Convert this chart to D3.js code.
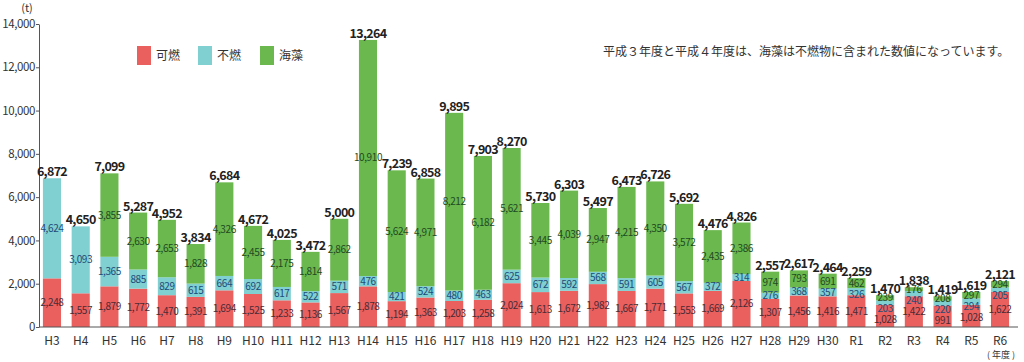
<!DOCTYPE html>
<html>
<head>
<meta charset="utf-8">
<script src="https://cdn.jsdelivr.net/npm/d3@7"></script>
<style>
  body { margin: 0; background: #fff; }
  text { font-family: "Noto Sans CJK JP", "Noto Sans", sans-serif; }
</style>
</head>
<body>
<div id="chart"></div>
<script>
const years = ["H3","H4","H5","H6","H7","H8","H9","H10","H11","H12","H13","H14","H15","H16","H17","H18","H19","H20","H21","H22","H23","H24","H25","H26","H27","H28","H29","H30","R1","R2","R3","R4","R5","R6"];
const combustible = [2248,1557,1879,1772,1470,1391,1694,1525,1233,1136,1567,1878,1194,1363,1203,1258,2024,1613,1672,1982,1667,1771,1553,1669,2126,1307,1456,1416,1471,1028,1422,991,1028,1622];
const nonCombustible = [4624,3093,1365,885,829,615,664,692,617,522,571,476,421,524,480,463,625,672,592,568,591,605,567,372,314,276,368,357,326,203,240,220,294,205];
const seaweed = [0,0,3855,2630,2653,1828,4326,2455,2175,1814,2862,10910,5624,4971,8212,6182,5621,3445,4039,2947,4215,4350,3572,2435,2386,974,793,691,462,239,176,208,297,294];
const totals = [6872,4650,7099,5287,4952,3834,6684,4672,4025,3472,5000,13264,7239,6858,9895,7903,8270,5730,6303,5497,6473,6726,5692,4476,4826,2557,2617,2464,2259,1470,1838,1419,1619,2121];
const yTicks = [0,2000,4000,6000,8000,10000,12000,14000];

const seriesNames = ["可燃", "不燃", "海藻"];
const colors = ["#e9605f", "#80cfd1", "#6bb84f"];
const labelColors = ["#4a2b35", "#1d4c78", "#1f4a1f"];

const width = 1024, height = 362;

const rows = years.map((y, i) => ({ year: y, c: combustible[i], n: nonCombustible[i], s: seaweed[i], total: totals[i] }));
const stack = d3.stack().keys(["c", "n", "s"])(rows);

const svg = d3.select("#chart").append("svg")
  .attr("width", width)
  .attr("height", height);

const x = d3.scaleBand()
  .domain(years)
  .range([37.6, 1014.4])
  .paddingInner(0.37)
  .paddingOuter(0.185);

const y = d3.scaleLinear()
  .domain([0, 14000])
  .range([327, 24]);

// y axis
const yAxis = svg.append("g")
  .attr("transform", "translate(39,0)")
  .call(d3.axisLeft(y).tickValues(yTicks).tickSize(3).tickSizeOuter(0).tickPadding(1).tickFormat(d3.format(",")));
yAxis.select(".domain").attr("stroke", "#555");
yAxis.selectAll(".tick line").attr("stroke", "#555");
yAxis.selectAll(".tick text").attr("font-size", 11.5).attr("fill", "#333")
  .attr("letter-spacing", -0.4)
  .style("font-family", "'Noto Sans CJK JP', sans-serif");

svg.append("text").attr("x", 27).attr("y", 12).attr("text-anchor", "middle")
  .attr("font-size", 11).attr("fill", "#333").text("(t)");

// bars
svg.append("g").selectAll("g")
  .data(stack)
  .join("g")
  .attr("fill", (d, i) => colors[i])
  .selectAll("rect")
  .data(d => d)
  .join("rect")
  .attr("x", d => x(d.data.year))
  .attr("y", d => y(d[1]))
  .attr("width", x.bandwidth())
  .attr("height", d => y(d[0]) - y(d[1]));

// baseline
svg.append("line")
  .attr("x1", 39).attr("x2", 1018)
  .attr("y1", y(0)).attr("y2", y(0))
  .attr("stroke", "#555");

// segment labels: centered, pushed down when they collide
const segLabels = svg.append("g").attr("font-size", 10).attr("text-anchor", "middle");
rows.forEach((r, i) => {
  const items = [];
  stack.forEach((layer, k) => {
    const d = layer[i];
    const v = d[1] - d[0];
    if (v > 0) items.push({ k, v, cy: (y(d[0]) + y(d[1])) / 2 });
  });
  let prev = -Infinity;
  for (let j = items.length - 1; j >= 0; j--) {
    const it = items[j];
    it.py = Math.max(it.cy, prev + 11);
    prev = it.py;
  }
  items.forEach(it => {
    segLabels.append("text")
      .attr("x", x(r.year) + x.bandwidth() / 2)
      .attr("y", it.py)
      .attr("dy", "0.35em")
      .attr("fill", labelColors[it.k])
      .attr("letter-spacing", -0.4)
      .text(d3.format(",")(it.v));
  });
});

// totals
svg.append("g").selectAll("text")
  .data(rows)
  .join("text")
  .attr("x", d => x(d.year) + x.bandwidth() / 2)
  .attr("y", d => y(d.total) - 2)
  .attr("text-anchor", "middle")
  .attr("font-size", 12.5)
  .attr("font-weight", "bold")
  .attr("fill", "#222")
  .attr("letter-spacing", -0.7)
  .text(d => d3.format(",")(d.total));

// x labels
svg.append("g").selectAll("text")
  .data(years)
  .join("text")
  .attr("x", d => x(d) + x.bandwidth() / 2)
  .attr("y", 345)
  .attr("text-anchor", "middle")
  .attr("font-size", 12)
  .attr("fill", "#333")
  .text(d => d);

svg.append("text").attr("x", 1001).attr("y", 358).attr("text-anchor", "middle")
  .attr("font-size", 9).attr("fill", "#333").text("( 年度 )");

// legend
const legendX = [137, 198, 260];
const legend = svg.append("g");
seriesNames.forEach((name, i) => {
  legend.append("rect").attr("x", legendX[i]).attr("y", 46).attr("width", 14).attr("height", 19).attr("fill", colors[i]);
  legend.append("text").attr("x", legendX[i] + 19).attr("y", 60).attr("font-size", 12).attr("fill", "#333").text(name);
});

// note
svg.append("text")
  .attr("x", 603).attr("y", 56)
  .attr("font-size", 12)
  .attr("fill", "#333")
  .text("平成３年度と平成４年度は、海藻は不燃物に含まれた数値になっています。");
</script>
</body>
</html>
